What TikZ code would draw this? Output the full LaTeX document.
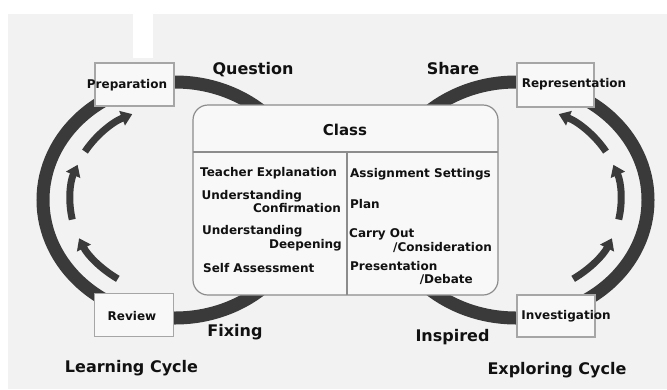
\documentclass[tikz,border=0pt]{standalone}
\usepackage{fontspec}
\setmainfont{DejaVu Sans}
\usetikzlibrary{arrows.meta}
\definecolor{bg}{HTML}{F2F2F2}
\definecolor{ringc}{HTML}{3A3A3A}
\definecolor{boxgray}{HTML}{A6A6A6}
\definecolor{boxfill}{HTML}{F8F8F8}
\definecolor{classline}{HTML}{8C8C8C}
\definecolor{txt}{HTML}{111111}
\begin{document}
\begin{tikzpicture}[x=1pt,y=-1pt,
  ring/.style={draw=ringc, line width=13pt},
  cyclearrow/.style={draw=ringc, line width=7pt, -{Triangle[length=11pt,width=15pt]}},
  stagebox/.style={draw=boxgray, line width=1.5pt, fill=boxfill, minimum width=79pt, minimum height=43pt, inner sep=0pt},
  small/.style={font=\fontsize{12}{14}\selectfont\bfseries, text=txt, inner sep=0pt},
  big/.style={font=\fontsize{16}{19}\selectfont\bfseries, text=txt, inner sep=0pt}]
\useasboundingbox (0,0) rectangle (667,389);
% background
\fill[bg] (8,14) rectangle (667,389);
\fill[white] (133,14) rectangle (153,58);
% outer rings
\draw[ring] (175,200) ellipse [x radius=132, y radius=118];
\draw[ring] (516,200) ellipse [x radius=132, y radius=118];
% inner arrows, left cycle
\draw[cyclearrow] ([shift={(175,200)}]123:105 and 94) arc[start angle=123, end angle=156, x radius=105, y radius=94];
\draw[cyclearrow] ([shift={(175,200)}]168:105 and 94) arc[start angle=168, end angle=202, x radius=105, y radius=94];
\draw[cyclearrow] ([shift={(175,200)}]211:105 and 94) arc[start angle=211, end angle=246, x radius=105, y radius=94];
% inner arrows, right cycle
\draw[cyclearrow] ([shift={(516,200)}]57:105 and 94) arc[start angle=57, end angle=24, x radius=105, y radius=94];
\draw[cyclearrow] ([shift={(516,200)}]12:105 and 94) arc[start angle=12, end angle=-22, x radius=105, y radius=94];
\draw[cyclearrow] ([shift={(516,200)}]-31:105 and 94) arc[start angle=-31, end angle=-66, x radius=105, y radius=94];
% class box
\node[draw=classline, line width=1.2pt, fill=boxfill, rounded corners=15pt, minimum width=305pt, minimum height=190pt, inner sep=0pt] (class) at (345.5,200) {};
\coordinate (hl) at (193,152);
\coordinate (hr) at (498,152);
\coordinate (vt) at (347,152);
\coordinate (vb) at (347,295);
\draw[classline, line width=1.2pt] (hl) -- (hr);
\draw[classline, line width=1.2pt] (vt) -- (vb);
\node[font=\fontsize{15}{18}\selectfont\bfseries, text=txt, inner sep=0pt, anchor=base] (classT) at (345,135) {Class};
% left column
\node[small, anchor=base west] (l1) at (200,176) {Teacher Explanation};
\node[small, anchor=base west] (l2a) at (201.5,199) {Understanding};
\node[small, anchor=base east] (l2b) at (341,212) {Confirmation};
\node[small, anchor=base west] (l3a) at (202,234) {Understanding};
\node[small, anchor=base east] (l3b) at (342,248) {Deepening};
\node[small, anchor=base west] (l4) at (203,272) {Self Assessment};
% right column
\node[small, anchor=base west] (r1) at (350,177) {Assignment Settings};
\node[small, anchor=base west] (r2) at (350,208) {Plan};
\node[small, anchor=base west] (r3a) at (349,237) {Carry Out};
\node[small, anchor=base east] (r3b) at (492,251) {/Consideration};
\node[small, anchor=base west] (r4a) at (350,270) {Presentation};
\node[small, anchor=base east] (r4b) at (473,283) {/Debate};
% stage boxes
\node[stagebox] (prep) at (134.5,84.5) {};
\node[stagebox] (review) at (134,315) {};
\node[stagebox, minimum width=77pt, minimum height=44pt] (repr) at (555.5,85) {};
\node[stagebox, minimum width=78pt, minimum height=42pt] (inv) at (556,316) {};
\node[small, anchor=base] (prepT) at (127,88) {Preparation};
\node[small, anchor=base] (reviewT) at (132,320) {Review};
\node[small, anchor=base] (reprT) at (574,87.5) {Representation};
\node[small, anchor=base] (invT) at (566,319.5) {Investigation};
% labels
\node[big, anchor=base] (question) at (253,74) {Question};
\node[big, anchor=base] (share) at (453,74) {Share};
\node[big, anchor=base] (fixing) at (235,336) {Fixing};
\node[big, anchor=base] (inspired) at (452.5,341) {Inspired};
\node[big, anchor=base] (lcycle) at (131.5,372.5) {Learning Cycle};
\node[big, anchor=base] (ecycle) at (557,374) {Exploring Cycle};
\end{tikzpicture}
\end{document}
